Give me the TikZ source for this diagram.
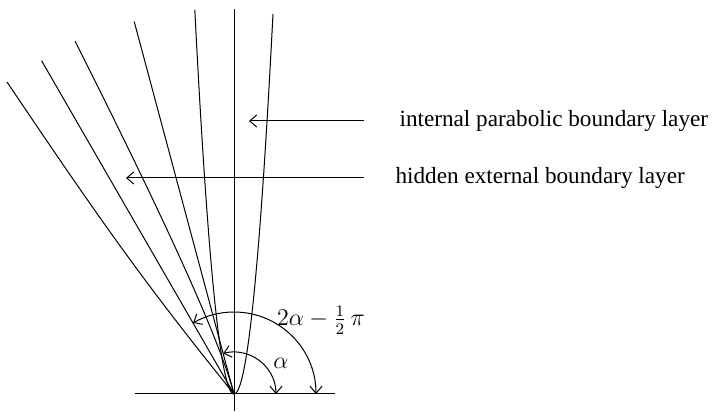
\documentclass[tikz,border=0pt]{standalone}
\usepackage{fontspec}
\setmainfont{Liberation Serif}
\usetikzlibrary{arrows.meta}
\begin{document}
\begin{tikzpicture}[x=20pt, y=20pt, line width=0.5pt, >={Straight Barb[length=3.5pt,width=6pt]},
    font=\fontsize{11.6}{14}\selectfont]
    \useasboundingbox (-5.85,-0.45) rectangle (11.95,9.85);

    % Draw axes
    \coordinate (O) at (0,0);
    \draw (-2.475,0) -- (2.525,0);
    \draw (0,-0.425) -- (0,9.625);

    % Draw parabolic boundary layer y = 10 x^2
    \draw plot[smooth, samples=60, domain=-0.98:0.975] (\x, {10*\x*\x});

    % Draw lines through the corner
    \draw (O) -- (105:9.64);
    \draw (O) -- (120:9.62);
    \draw (-5.675,7.8) to[out=-56, in=129] (O);
    \draw (-3.975,8.825) .. controls (-1.5,3.9) and (-0.35,1.3) .. (O);

    % Draw angles
    \draw[<->] (1.05,0) arc[start angle=0, end angle=105, radius=1.05];
    \draw[<->] (2.05,0) arc[start angle=0, end angle=120, radius=2.05];
    \node (alpha) at (1.175,0.775) {$\alpha$};
    \node[anchor=west] (bigangle) at (0.9,1.85) {$2\alpha - {\textstyle\frac{1}{2}}\,\pi$};

    % Draw labels
    \node[anchor=west] (internal) at (3.96,6.825) {internal parabolic boundary layer};
    \coordinate (internaltip) at (0.375,6.825);
    \draw[->, shorten <=14pt] (internal.west) -- (internaltip);

    \node[anchor=west] (hidden) at (3.86,5.4) {hidden external boundary layer};
    \coordinate (hiddentip) at (-2.7,5.4);
    \draw[->, shorten <=12pt] (hidden.west) -- (hiddentip);
\end{tikzpicture}
\end{document}
